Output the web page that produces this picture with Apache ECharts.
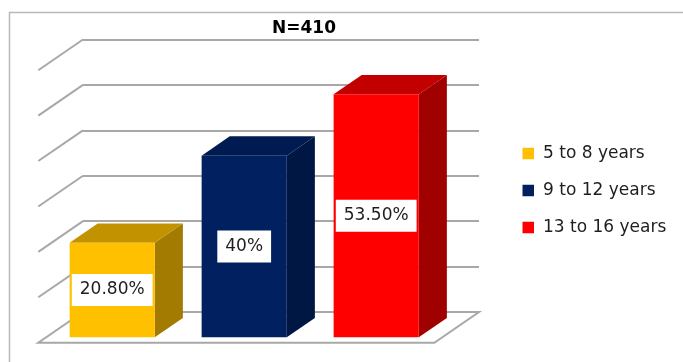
<!DOCTYPE html>
<html>
<head>
<meta charset="utf-8">
<script src="https://cdn.jsdelivr.net/npm/echarts@6/dist/echarts.min.js"></script>
<style>
  html, body { margin: 0; padding: 0; background: #fff; }
  #chart { width: 683px; height: 362px; }
</style>
</head>
<body>
<div id="chart"></div>
<script>
// Age groups and their shares
const categories = ['5 to 8 years', '9 to 12 years', '13 to 16 years'];
const values = [20.8, 40, 53.5];
const valueLabels = ['20.80%', '40%', '53.50%'];
const gridTicks = [0, 10, 20, 30, 40, 50, 60];
const titleText = 'N=410';

// Face colours per bar: front, top, side
const palette = [
  { front: '#FFC000', top: '#C29200', side: '#A27B00' },
  { front: '#002060', top: '#001B52', side: '#001643' },
  { front: '#FF0000', top: '#C20000', side: '#A10000' }
];

// Oblique projection offsets (screen px) measured from the back wall plane
const WALL = [-44.7, 30.7];   // full depth of the floor / side wall
const FRONT = [-36.8, 25.3];  // bar front face
const BACK = [-8.7, 6.0];     // bar back face
const BAR_RATIO = 0.645;
const FONT = '"DejaVu Sans", sans-serif';

function renderWalls(params, api) {
  const cs = params.coordSys;
  const t = api.value(1);
  const y = api.coord([0, t])[1];
  const x0 = cs.x, x1 = cs.x + cs.width;
  if (t === 0) {
    return {
      type: 'polygon',
      shape: { points: [[x0, y], [x1, y], [x1 + WALL[0], y + WALL[1]], [x0 + WALL[0], y + WALL[1]]] },
      style: { fill: '#fff', stroke: '#a8a8a8', lineWidth: 2 }
    };
  }
  return {
    type: 'line',
    shape: { x1: x0, y1: y, x2: x0 + WALL[0], y2: y + WALL[1] },
    style: { stroke: '#a8a8a8', lineWidth: 2 }
  };
}

function renderBar(params, api) {
  const i = api.value(0);
  const v = api.value(1);
  const top = api.coord([i, v]);
  const base = api.coord([i, 0]);
  const bw = api.size([1, 0])[0] * BAR_RATIO;
  const xl = top[0] - bw / 2, xr = top[0] + bw / 2;
  const yt = top[1], yb = base[1];
  const c = palette[i];
  return {
    type: 'group',
    children: [
      {
        type: 'polygon',
        shape: { points: [[xr + FRONT[0], yt + FRONT[1]], [xr + BACK[0], yt + BACK[1]], [xr + BACK[0], yb + BACK[1]], [xr + FRONT[0], yb + FRONT[1]]] },
        style: { fill: c.side }
      },
      {
        type: 'polygon',
        shape: { points: [[xl + FRONT[0], yt + FRONT[1]], [xr + FRONT[0], yt + FRONT[1]], [xr + BACK[0], yt + BACK[1]], [xl + BACK[0], yt + BACK[1]]] },
        style: { fill: c.top }
      },
      {
        type: 'rect',
        shape: { x: xl + FRONT[0], y: yt + FRONT[1], width: bw, height: yb - yt },
        style: { fill: c.front }
      },
      {
        type: 'text',
        x: top[0] + FRONT[0],
        y: (yt + yb) / 2 + FRONT[1],
        style: {
          text: valueLabels[i],
          font: '17px ' + FONT,
          fill: '#1e1e1e',
          align: 'center',
          verticalAlign: 'middle',
          backgroundColor: '#fff',
          padding: [7, 8, 8, 8]
        }
      }
    ]
  };
}

const series = [{
  type: 'custom',
  name: 'walls',
  silent: true,
  z: 1,
  clip: false,
  renderItem: renderWalls,
  data: gridTicks.map(t => [0, t])
}].concat(categories.map((name, i) => ({
  type: 'custom',
  name: name,
  z: 2,
  clip: false,
  itemStyle: { color: palette[i].front },
  renderItem: renderBar,
  data: [[i, values[i]]]
})));

const chart = echarts.init(document.getElementById('chart'), null, { renderer: 'canvas' });
chart.setOption({
  animation: false,
  backgroundColor: '#fff',
  title: {
    text: titleText,
    left: 272,
    top: 20,
    padding: 0,
    textStyle: { fontFamily: FONT, fontSize: 17, fontWeight: 'bold', color: '#000' }
  },
  graphic: [{
    type: 'rect',
    shape: { x: 9.5, y: 12.5, width: 700, height: 400 },
    style: { fill: 'none', stroke: '#b8b8b8', lineWidth: 1.5 },
    silent: true
  }],
  legend: {
    data: categories,
    orient: 'vertical',
    left: 522.5,
    top: 143,
    itemWidth: 11.5,
    itemHeight: 11.5,
    itemGap: 16,
    icon: 'rect',
    padding: 0,
    textStyle: { fontFamily: FONT, fontSize: 17, color: '#1e1e1e', lineHeight: 21, padding: [0, 0, 0, 4] }
  },
  grid: { left: 83, right: 204, top: 39.5, bottom: 50 },
  xAxis: {
    type: 'category',
    data: categories,
    axisLine: { show: false },
    axisTick: { show: false },
    axisLabel: { show: false },
    splitLine: { show: false }
  },
  yAxis: {
    type: 'value',
    min: 0,
    max: 60,
    interval: 10,
    axisLine: { show: false },
    axisTick: { show: false },
    axisLabel: { show: false },
    splitLine: { show: true, lineStyle: { color: '#a8a8a8', width: 2 } }
  },
  series: series
});
</script>
</body>
</html>
